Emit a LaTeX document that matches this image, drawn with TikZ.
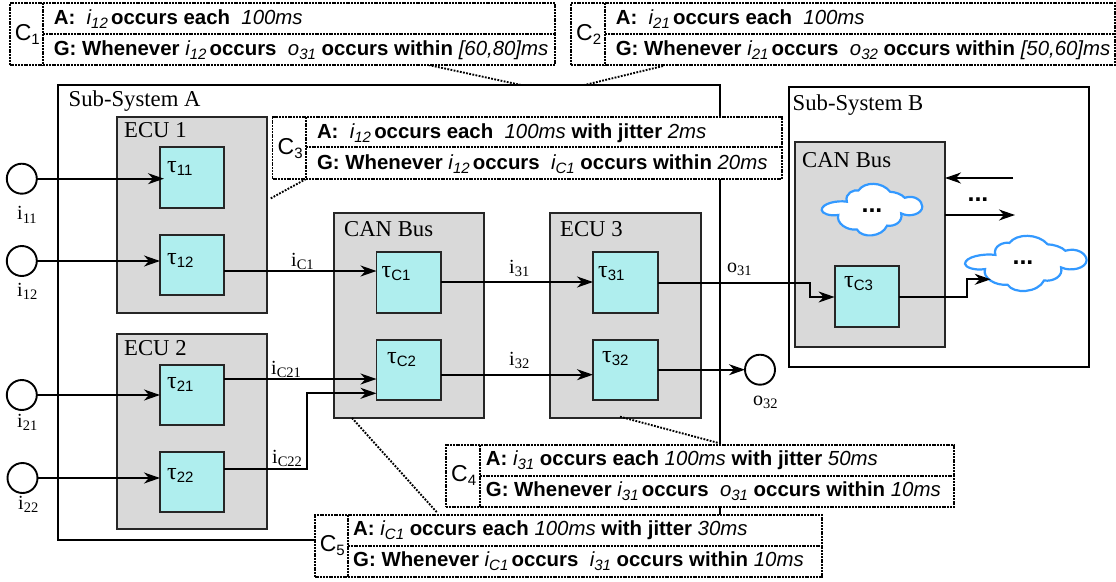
\documentclass[tikz,border=0pt]{standalone}
\usepackage{fontspec}
\setmainfont{Liberation Serif}
\newfontfamily\lsans{Liberation Sans}
\usetikzlibrary{arrows.meta}
\definecolor{ecugray}{HTML}{D9D9D9}
\definecolor{taskcyan}{HTML}{AFEEEE}
\definecolor{cloudblue}{HTML}{3399FF}
\newcommand{\lowtxt}[3]{\raisebox{-#2pt}{\fontsize{#1}{#1}\selectfont #3}}
\newcommand{\ivar}[2]{{\normalfont\lsans\itshape #1\lowtxt{15}{4}{#2}}}
\newcommand{\ivart}[2]{\ivar{#1}{#2}\hspace{-2.5pt}}
\newcommand{\val}[1]{{\normalfont\lsans\itshape #1}}
\newcommand{\sig}[2]{{\fontsize{20}{20}\selectfont #1\lowtxt{14.5}{3.5}{#2}}}
\newcommand{\tasklbl}[1]{{\fontsize{24}{24}\selectfont τ\lsans\lowtxt{15}{3}{#1}}}
\newcommand{\rbox}[6]{\node[#1,minimum width={(#5-#3)*1pt},minimum height={(#6-#4)*1pt}] (#2) at ({(#3+#5)/2},{(#4+#6)/2}) {};}
% \cbox{name}{x1}{y1}{xdiv}{yh}{x2}{y2}{index}{textx}{A}{G}
\newcommand{\cbox}[9]{\rbox{cframe}{#1}{#2}{#3}{#6}{#7}
 \node[clabel] (#1lbl) at (#2+5,#3+37) {C\lowtxt{15}{4}{#8}};
 \draw[cdash] (#4,#3) -- (#4,#7);
 \draw[cdash] (#4,#5) -- (#6,#5);
 \def\cboxtx{#9}\cboxrest{#1}{#3}}
\newcommand{\cboxrest}[4]{\node[ctext] (#1a) at (\cboxtx,#2+21) {#3};
 \node[ctext] (#1g) at (\cboxtx,#2+52) {#4};}
% \cloudshape{cx}{cy}{rx}{ry}
\newcommand{\cloudshape}[4]{\begin{scope}[shift={(#1,#2)},x=#3pt,y=-#4pt]
 \draw[cloudln] (-.5,-.32) .. controls (-.55,-.65) and (-.35,-.8) .. (-.27,-.75)
  .. controls (-.15,-1.1) and (.2,-1.1) .. (.36,-.7)
  .. controls (.45,-.7) and (.6,-.6) .. (.65,-.47)
  .. controls (.85,-.6) and (1,-.35) .. (1,-.13)
  .. controls (1,.15) and (.75,.3) .. (.58,.13)
  .. controls (.62,.45) and (.45,.65) .. (.3,.6)
  .. controls (.2,1.05) and (-.2,1.1) .. (-.3,.75)
  .. controls (-.5,.8) and (-.72,.5) .. (-.67,.19)
  .. controls (-.85,.25) and (-1,.12) .. (-1,0)
  .. controls (-1,-.25) and (-.7,-.38) .. (-.5,-.32) -- cycle;
\end{scope}}
\tikzset{
 x=1pt,y=-1pt,
 sysbox/.style={draw=black,line width=1.9pt,fill=white,inner sep=0pt,outer sep=0pt},
 ecubox/.style={draw=black!85,line width=1.9pt,fill=ecugray,inner sep=0pt,outer sep=0pt},
 taskbox/.style={draw=black!85,line width=1.9pt,fill=taskcyan,inner sep=0pt,outer sep=0pt},
 port/.style={draw=black,line width=1.9pt,fill=white,circle,inner sep=0pt,outer sep=0pt,minimum size=30pt},
 link/.style={draw=black,line width=1.8pt,-{Stealth[length=16pt,width=11pt,inset=5pt]}},
 title/.style={anchor=base west,inner sep=0pt,font=\fontsize{22.7}{22.7}\selectfont},
 sigtxt/.style={anchor=base west,inner sep=0pt},
 tasktxt/.style={anchor=base west,inner sep=0pt},
 cframe/.style={draw=black,line width=1.9pt,dash pattern=on 2pt off .8pt,fill=white,inner sep=0pt,outer sep=0pt},
 cdash/.style={draw=black,line width=1.9pt,dash pattern=on 2pt off .8pt},
 clabel/.style={anchor=base west,inner sep=0pt,font=\lsans\fontsize{23}{23}\selectfont},
 ctext/.style={anchor=base west,inner sep=0pt,font=\lsans\bfseries\fontsize{20.4}{20.4}\selectfont},
 dotlink/.style={draw=black,line width=1.9pt,dash pattern=on 1.8pt off 1.4pt},
 cloudln/.style={draw=cloudblue,line width=2.2pt,fill=white},
 dots/.style={anchor=base,inner sep=0pt,font=\lsans\bfseries\fontsize{25}{25}\selectfont},
}
\begin{document}
\begin{tikzpicture}
\useasboundingbox (0,0) rectangle (1116,581);
\fill[white] (0,0) rectangle (1116,581);
% subsystems
\rbox{sysbox}{sysA}{58}{85}{719.6}{540}
\rbox{sysbox}{sysB}{789}{87}{1089}{367}
\node[title] (tA) at (68.5,106) {Sub-System A};
\node[title] (tB) at (792.5,110) {Sub-System B};
% ECUs
\rbox{ecubox}{ecu1}{117}{117}{267}{313}
\rbox{ecubox}{ecu2}{117}{334}{267}{529}
\rbox{ecubox}{canA}{333.6}{213}{483.6}{417.7}
\rbox{ecubox}{ecu3}{550}{213}{700.6}{417.7}
\rbox{ecubox}{canB}{795}{142}{945}{347}
\node[title] (l1) at (124,137) {ECU 1};
\node[title] (l2) at (124,355) {ECU 2};
\node[title] (l3) at (344,236) {CAN Bus};
\node[title] (l4) at (560,236) {ECU 3};
\node[title] (l5) at (802,167) {CAN Bus};
% tasks
\rbox{taskbox}{t11}{160}{147}{224}{208}
\rbox{taskbox}{t12}{160}{235}{224}{295}
\rbox{taskbox}{t21}{160}{365}{224}{425}
\rbox{taskbox}{t22}{160}{452}{224}{512}
\rbox{taskbox}{tc1}{376.5}{252}{441}{313}
\rbox{taskbox}{tc2}{376.5}{340}{441}{400}
\rbox{taskbox}{t31}{593}{252}{658}{313}
\rbox{taskbox}{t32}{593}{340}{658}{400}
\rbox{taskbox}{tc3}{834.6}{266}{899}{327}
\node[tasktxt] (n11) at (167,172) {\tasklbl{11}};
\node[tasktxt] (n12) at (167,264) {\tasklbl{12}};
\node[tasktxt] (n21) at (167,388) {\tasklbl{21}};
\node[tasktxt] (n22) at (167,479) {\tasklbl{22}};
\node[tasktxt] (nc1) at (381.5,277) {\tasklbl{C1}};
\node[tasktxt] (nc2) at (387,363) {\tasklbl{C2}};
\node[tasktxt] (n31) at (598,277) {\tasklbl{31}};
\node[tasktxt] (n32) at (602,362.6) {\tasklbl{32}};
\node[tasktxt] (nc3) at (844,287) {\tasklbl{C3}};
% ports
\node[port] (p11) at (21.8,178.7) {};
\node[port] (p12) at (21.8,261) {};
\node[port] (p21) at (21.8,395) {};
\node[port] (p22) at (22.5,478) {};
\node[port] (o32) at (760,369.7) {};
\node[sigtxt] (s11) at (17,219.5) {\sig{i}{11}};
\node[sigtxt] (s12) at (17,296) {\sig{i}{12}};
\node[sigtxt] (s21) at (17,427) {\sig{i}{21}};
\node[sigtxt] (s22) at (18,509) {\sig{i}{22}};
\node[sigtxt] (so32) at (753,405) {\sig{o}{32}};
% connectors
\draw[link] (p11.east) -- ([xshift=4pt]t11.west |- p11.east);
\draw[link] (p12.east) -- (t12.west |- p12.east);
\draw[link] (p21.east) -- (t21.west |- p21.east);
\draw[link] (p22.east) -- (t22.west |- p22.east);
\coordinate (a12) at (t12.east |- 0,271);
\coordinate (ac1) at (tc1.west |- 0,271);
\draw[link] (a12) -- (ac1);
\coordinate (ac13) at (tc1.east |- 0,282);
\coordinate (a31) at (t31.west |- 0,282);
\draw[link] (ac13) -- (a31);
\coordinate (a21) at (t21.east |- 0,379);
\coordinate (ac21) at (tc2.west |- 0,379);
\draw[link] (a21) -- (ac21);
\coordinate (a22) at (t22.east |- 0,468.7);
\coordinate (ac22) at (tc2.west |- 0,393.3);
\draw[link] (a22) -| (307,393.3) -- (ac22);
\coordinate (ac23) at (tc2.east |- 0,374.7);
\coordinate (a32) at (t32.west |- 0,374.7);
\draw[link] (ac23) -- (a32);
\coordinate (a32o) at (t32.east |- o32.west);
\draw[link] (a32o) -- (o32.west);
\coordinate (a31o) at (t31.east |- 0,283);
\coordinate (a3b) at (tc3.west |- 0,297);
\draw[link] (a31o) -| (810,297) -- (a3b);
\node[sigtxt] (iC1) at (291,266) {\sig{i}{C1}};
\node[sigtxt] (i31) at (509,273) {\sig{i}{31}};
\node[sigtxt] (iC21) at (271,374) {\sig{i}{C21}};
\node[sigtxt] (iC22) at (272,463) {\sig{i}{C22}};
\node[sigtxt] (i32) at (509,365) {\sig{i}{32}};
\node[sigtxt] (o31) at (727,272) {\sig{o}{31}};
% sub-system B right side
\node[dots] (dB) at (978,201) {...};
\coordinate (ext1) at (1013,178);
\coordinate (canBin) at (canB.east |- ext1);
\draw[link] (ext1) -- (canBin);
\coordinate (canBout) at (canB.east |- 0,215);
\coordinate (ext2) at (1015,215);
\draw[link] (canBout) -- (ext2);
\cloudshape{872}{210}{50.3}{26}
\node[dots] (dc1) at (872,212.5) {...};
\cloudshape{1025.8}{263.8}{60.8}{27.8}
\node[dots] (dc2) at (1023,264.5) {...};
\coordinate (a3c) at (tc3.east |- 0,297);
\coordinate (cl2) at (990.7,279.3);
\draw[link] (a3c) -| (967,279.3) -- (cl2);
% dotted leaders
\coordinate (d1a) at (428.6,65); \coordinate (d1b) at (521,85);
\coordinate (d2a) at (663,66); \coordinate (d2b) at (584.6,85);
\coordinate (d3a) at (306,179); \coordinate (d3b) at (269.6,199);
\coordinate (d4a) at (620,416.7); \coordinate (d4b) at (718.5,443);
\coordinate (d5a) at (352,418); \coordinate (d5b) at (437.5,513);
\draw[dotlink] (d1a) -- (d1b);
\draw[dotlink] (d2a) -- (d2b);
\draw[dotlink] (d3a) -- (d3b);
\draw[dotlink] (d4a) -- (d4b);
\draw[dotlink] (d5a) -- (d5b);
% contracts
\cbox{c1}{9.6}{3}{43}{33.7}{555}{65}{1}{53.6}{A:\ \ \ivart{i}{12} occurs each\ \ \val{100ms}}{G: Whenever \ivart{i}{12} occurs\ \ \ivar{o}{31} occurs within \val{[60,80]ms}}
\cbox{c2}{571}{3}{605}{33.7}{1115}{65}{2}{615.6}{A:\ \ \ivart{i}{21} occurs each\ \ \val{100ms}}{G: Whenever \ivart{i}{21} occurs\ \ \ivar{o}{32} occurs within \val{[50,60]ms}}
\cbox{c3}{272.5}{117}{306}{147}{782}{179}{3}{316.8}{A:\ \ \ivart{i}{12} occurs each\ \ \val{100ms} with jitter \val{2ms}}{G: Whenever \ivart{i}{12} occurs\ \ \ivar{i}{C1} occurs within \val{20ms}}
\cbox{c4}{446}{444.7}{480}{475.7}{954}{507}{4}{485.7}{A: \ivar{i}{31} occurs each \val{100ms} with jitter \val{50ms}}{G: Whenever \ivart{i}{31} occurs\ \ \ivar{o}{31} occurs within \val{10ms}}
\cbox{c5}{314.6}{514.7}{348}{546}{821.7}{577}{5}{353}{A: \ivar{i}{C1} occurs each \val{100ms} with jitter \val{30ms}}{G: Whenever \ivart{i}{C1} occurs\ \ \ivar{i}{31} occurs within \val{10ms}}
\end{tikzpicture}
\end{document}
